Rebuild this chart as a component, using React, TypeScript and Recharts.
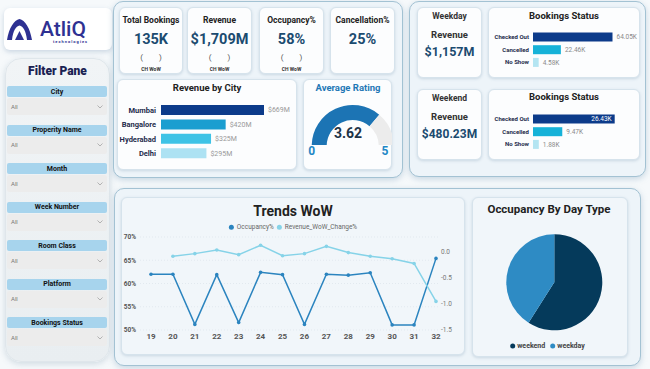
import React from 'react';
import {
  BarChart,
  Bar,
  XAxis,
  YAxis,
  Cell,
  LabelList,
  PieChart,
  Pie,
  LineChart,
  Line,
  CartesianGrid,
} from 'recharts';

// KPI cards
const kpiTitles = ['Total Bookings', 'Revenue', 'Occupancy%', 'Cancellation%'];
const kpiValues = ['135K', '$1,709M', '58%', '25%'];
const kpiHasWoW = [true, true, true, false];

// Revenue by city ($M)
const cities = ['Mumbai', 'Bangalore', 'Hyderabad', 'Delhi'];
const cityRevenue = [669, 420, 325, 295];
const cityColors = ['#0c3b8a', '#1a9ed0', '#3ec3e6', '#ade2f3'];

// Average rating gauge
const averageRating = 3.62;
const ratingMax = 5;

// Weekday / weekend
const dayRevenueLabels = ['Weekday', 'Weekend'];
const dayRevenueValues = ['$1,157M', '$480.23M'];
const bookingStatuses = ['Checked Out', 'Cancelled', 'No Show'];
const weekdayBookings = [64.05, 22.46, 4.58]; // K
const weekendBookings = [26.43, 9.47, 1.88]; // K
const statusColors = ['#0c3b8a', '#16b2d8', '#b4e5f2'];

// Trends WoW
const weeks = ['19', '20', '21', '22', '23', '24', '25', '26', '27', '28', '29', '30', '31', '32'];
const occupancyPct = [62.0, 62.0, 51.2, 61.9, 51.6, 62.4, 61.9, 51.2, 62.0, 61.8, 62.3, 51.1, 51.1, 65.4];
const revenueWoWChange = [null, -0.08, -0.03, 0.04, -0.05, 0.13, -0.07, -0.03, 0.11, -0.01, -0.08, -0.13, -0.22, -0.95];
const leftTicks = [50, 55, 60, 65, 70];
const rightTicks = [-1.5, -1.0, -0.5, 0.0];

// Occupancy by day type
const dayTypes = ['weekend', 'weekday'];
const dayTypeShare = [59, 41];
const dayTypeColors = ['#053a5b', '#2e8bc4'];

// Filter pane
const filterNames = ['City', 'Properity Name', 'Month', 'Week Number', 'Room Class', 'Platform', 'Bookings Status'];

const FONT = 'Roboto, "Open Sans", sans-serif';
const VALUE_COLOR = '#1b4b70';

function T({ x, y, size, color = '#222', weight = 700, children, anchor = 'center' }: any) {
  const tx = anchor === 'center' ? '-50%' : anchor === 'end' ? '-100%' : '0';
  return (
    <div
      style={{
        position: 'absolute',
        left: x,
        top: y,
        transform: `translate(${tx}, -50%)`,
        fontSize: size,
        fontWeight: weight,
        color,
        whiteSpace: 'pre',
        lineHeight: 1,
      }}
    >
      {children}
    </div>
  );
}

function Panel({ x, y, w, h }: any) {
  return (
    <div
      style={{
        position: 'absolute',
        left: x,
        top: y,
        width: w,
        height: h,
        boxSizing: 'border-box',
        border: '1px solid #a3c2d3',
        borderRadius: 10,
        background: '#edf4f9',
        boxShadow: '0 2px 6px rgba(110,150,180,0.35)',
      }}
    />
  );
}

function Card({ x, y, w, h, bg = '#fcfdfe' }: any) {
  return (
    <div
      style={{
        position: 'absolute',
        left: x,
        top: y,
        width: w,
        height: h,
        boxSizing: 'border-box',
        border: '1px solid #d6e3ec',
        borderRadius: 6,
        background: bg,
        boxShadow: '0 1px 3px rgba(120,150,175,0.3)',
      }}
    />
  );
}

function CategoryTick(size: number) {
  return (props: any) => (
    <text
      x={props.x}
      y={props.y}
      dy="0.35em"
      textAnchor="end"
      fontSize={size}
      fontWeight={700}
      fill="#1f2c4c"
    >
      {props.payload.value}
    </text>
  );
}

function statusLabel(insideFirst: boolean) {
  return (props: any) => {
    const x = Number(props.x);
    const y = Number(props.y);
    const width = Number(props.width);
    const height = Number(props.height);
    const inside = insideFirst && props.index === 0;
    return (
      <text
        x={inside ? x + width - 3 : x + width + 4}
        y={y + height / 2}
        dy="0.35em"
        textAnchor={inside ? 'end' : 'start'}
        fontSize={6.5}
        fill={inside ? '#ffffff' : '#8a8a8a'}
      >
        {`${Number(props.value).toFixed(2)}K`}
      </text>
    );
  };
}

function StatusChart({ top, values, right, insideFirst }: any) {
  const data = bookingStatuses.map((s, i) => ({ status: s, count: values[i] }));
  return (
    <div style={{ position: 'absolute', left: 490, top }}>
      <BarChart width={148} height={42} data={data} layout="vertical" margin={{ top: 2.5, right, bottom: 1.4, left: 0 }}>
        <XAxis type="number" hide domain={[0, Math.max(...values)]} />
        <YAxis
          type="category"
          dataKey="status"
          width={43}
          interval={0}
          axisLine={false}
          tickLine={false}
          tickSize={0}
          tickMargin={4}
          tick={CategoryTick(6)}
        />
        <Bar dataKey="count" barSize={9} isAnimationActive={false}>
          {data.map((d, i) => (
            <Cell key={d.status} fill={statusColors[i]} />
          ))}
          <LabelList dataKey="count" content={statusLabel(insideFirst)} />
        </Bar>
      </BarChart>
    </div>
  );
}

export default function App() {
  const cityData = cities.map((c, i) => ({ city: c, revenue: cityRevenue[i] }));
  const gaugeData = [
    { name: 'rating', value: averageRating },
    { name: 'rest', value: ratingMax - averageRating },
  ];
  const trendData = weeks.map((w, i) => ({ week: w, occupancy: occupancyPct[i], revWoW: revenueWoWChange[i] }));
  const pieData = dayTypes.map((d, i) => ({ name: d, value: dayTypeShare[i] }));
  const kpiX = [151, 219.5, 291.5, 362.5];
  const kpiBoxX = [119, 187, 259, 330];
  const kpiBoxW = [64, 65, 65, 65];

  return (
    <div
      style={{
        position: 'fixed',
        left: 0,
        top: 0,
        width: 650,
        height: 369,
        overflow: 'hidden',
        background: '#f6f9fb',
        fontFamily: FONT,
      }}
    >
      {/* logo */}
      <div
        style={{
          position: 'absolute',
          left: 4,
          top: 8,
          width: 108,
          height: 42,
          background: '#fff',
          borderRadius: 6,
          boxShadow: '0 2px 5px rgba(120,150,180,0.35)',
        }}
      />
      <svg style={{ position: 'absolute', left: 0, top: 0 }} width={40} height={50}>
        <path d="M7 40 C9 28 14 20 19.5 19 C25 20 30 28 32 40 L27 40 C26 31 23 26 19.5 25.5 C16 26 13 31 12 40 Z" fill="#2e3192" />
        <path d="M15 40 L19.5 31 L24 40 Z" fill="#2e3192" />
      </svg>
      <T x={40} y={29} size={21} weight={500} color="#2e3192" anchor="start">AtliQ</T>
      <T x={53} y={42} size={4} weight={700} color="#2e3192" anchor="start">t e c h n o l o g i e s</T>

      {/* filter pane */}
      <div
        style={{
          position: 'absolute',
          left: 5,
          top: 58,
          width: 105,
          height: 304,
          boxSizing: 'border-box',
          borderRadius: 16,
          background: 'linear-gradient(#f1f4f6, #e9eef1)',
          border: '1px solid #dfe6eb',
          boxShadow: '0 2px 6px rgba(120,150,170,0.3)',
        }}
      />
      <T x={57.5} y={70.5} size={12} weight={900} color="#1a2152">Filter Pane</T>
      {filterNames.map((f, i) => {
        const y = 86 + i * 38.5;
        return (
          <React.Fragment key={f}>
            <div style={{ position: 'absolute', left: 7, top: y, width: 100, height: 11, background: '#a7d4ed', borderRadius: 2 }} />
            <T x={57} y={y + 5.5} size={7} weight={700} color="#111">{f}</T>
            <div style={{ position: 'absolute', left: 7, top: y + 12, width: 100, height: 17, background: '#ececec', borderRadius: 2 }} />
            <T x={11} y={y + 20.5} size={6} weight={400} color="#777" anchor="start">All</T>
            <svg style={{ position: 'absolute', left: 97, top: y + 18.5 }} width={6} height={4}>
              <path d="M0.5 0.5 L3 3 L5.5 0.5" stroke="#999" strokeWidth={0.7} fill="none" />
            </svg>
          </React.Fragment>
        );
      })}

      {/* top-left panel */}
      <Panel x={113} y={1} w={290} h={177} />
      {kpiTitles.map((t, i) => (
        <React.Fragment key={t}>
          <Card x={kpiBoxX[i]} y={7} w={kpiBoxW[i]} h={67} />
          <T x={kpiX[i]} y={19.5} size={8.5} color="#222">{t}</T>
          <T x={kpiX[i]} y={40} size={14.5} color={VALUE_COLOR}>{kpiValues[i]}</T>
          {kpiHasWoW[i] && (
            <>
              <T x={kpiX[i]} y={57.5} size={8} weight={400} color="#555">{'(        )'}</T>
              <T x={kpiX[i]} y={68.5} size={5} color="#333">CH WoW</T>
            </>
          )}
        </React.Fragment>
      ))}

      {/* revenue by city */}
      <Card x={117} y={79} w={180} h={91} />
      <T x={207} y={88} size={9.5} color="#222">Revenue by City</T>
      <div style={{ position: 'absolute', left: 117, top: 100 }}>
        <BarChart width={180} height={63} data={cityData} layout="vertical" margin={{ top: 3, right: 33, bottom: 2.4, left: 0 }}>
          <XAxis type="number" hide domain={[0, 669]} />
          <YAxis
            type="category"
            dataKey="city"
            width={44}
            interval={0}
            axisLine={false}
            tickLine={false}
            tickSize={0}
            tickMargin={5}
            tick={CategoryTick(7.5)}
          />
          <Bar dataKey="revenue" barSize={10} isAnimationActive={false}>
            {cityData.map((d, i) => (
              <Cell key={d.city} fill={cityColors[i]} />
            ))}
            <LabelList dataKey="revenue" position="right" offset={4} fontSize={7} fill="#999" formatter={(v: any) => `$${v}M`} />
          </Bar>
        </BarChart>
      </div>

      {/* average rating gauge */}
      <Card x={303} y={79} w={89} h={91} />
      <T x={348} y={87.5} size={9.5} color="#1f78b6">Average Rating</T>
      <div style={{ position: 'absolute', left: 303, top: 95 }}>
        <PieChart width={89} height={50}>
          <Pie
            data={gaugeData}
            dataKey="value"
            cx={44.7}
            cy={46}
            startAngle={180}
            endAngle={0}
            innerRadius={26}
            outerRadius={41}
            stroke="none"
            isAnimationActive={false}
          >
            <Cell fill="#1c74b4" />
            <Cell fill="#ececec" />
          </Pie>
        </PieChart>
      </div>
      <T x={348} y={133} size={14} color="#1e3347">{averageRating.toFixed(2)}</T>
      <T x={311.7} y={150.5} size={12} color="#1f88c6">0</T>
      <T x={385} y={150.5} size={12} color="#1f88c6">{String(ratingMax)}</T>

      {/* top-right panel */}
      <Panel x={409} y={1} w={237} h={176} />
      {dayRevenueLabels.map((d, i) => {
        const oy = i * 81.5;
        return (
          <React.Fragment key={d}>
            <Card x={417} y={7 + oy} w={65} h={71} />
            <T x={449.5} y={16 + oy} size={8.5} color="#333">{d}</T>
            <T x={449.5} y={35 + oy} size={9.5} color="#333">Revenue</T>
            <T x={449.5} y={52 + oy} size={i === 0 ? 12.5 : 12} color={VALUE_COLOR}>{dayRevenueValues[i]}</T>
            <Card x={488} y={7 + oy} w={152} h={71} />
            <T x={564} y={15.8 + oy} size={9.5} color="#222">Bookings Status</T>
          </React.Fragment>
        );
      })}
      <StatusChart top={28} values={weekdayBookings} right={25.5} insideFirst={false} />
      <StatusChart top={109.5} values={weekendBookings} right={23.3} insideFirst={true} />

      {/* bottom panel */}
      <Panel x={114} y={188} w={527} h={178} />
      <Card x={121} y={197} w={344} h={158} bg="#f1f6fa" />
      <T x={293} y={210.5} size={14} color="#222">Trends WoW</T>
      <div
        style={{
          position: 'absolute',
          left: 293,
          top: 227,
          transform: 'translate(-50%, -50%)',
          fontSize: 6.5,
          color: '#666',
          whiteSpace: 'nowrap',
          display: 'flex',
          alignItems: 'center',
          gap: 3,
          lineHeight: 1,
        }}
      >
        <span style={{ width: 5, height: 5, borderRadius: 3, background: '#2b84bf', display: 'inline-block' }} />
        <span>Occupancy%</span>
        <span style={{ width: 5, height: 5, borderRadius: 3, background: '#86d3e8', display: 'inline-block' }} />
        <span>Revenue_WoW_Change%</span>
      </div>
      <div style={{ position: 'absolute', left: 121, top: 222 }}>
        <LineChart width={344} height={124} data={trendData} margin={{ top: 15, right: 0, bottom: 0, left: 0 }}>
          <CartesianGrid yAxisId="left" vertical={false} stroke="#e2e9ef" strokeDasharray="1 2" />
          <XAxis
            dataKey="week"
            height={16}
            interval={0}
            padding={{ left: 11, right: 2 }}
            axisLine={false}
            tickLine={false}
            tickSize={0}
            tickMargin={3}
            tick={{ fontSize: 8, fontWeight: 700, fill: '#555' }}
          />
          <YAxis
            yAxisId="left"
            domain={[50, 70]}
            ticks={leftTicks}
            width={19}
            axisLine={false}
            tickLine={false}
            tickSize={0}
            tickMargin={4}
            tick={{ fontSize: 6.5, fontWeight: 700, fill: '#555' }}
            tickFormatter={(v: number) => `${v}%`}
          />
          <YAxis
            yAxisId="right"
            orientation="right"
            domain={[-1.5, 0.29]}
            allowDataOverflow
            ticks={rightTicks}
            width={27}
            axisLine={false}
            tickLine={false}
            tickSize={0}
            tickMargin={3}
            tick={{ fontSize: 6.5, fill: '#777' }}
            tickFormatter={(v: number) => v.toFixed(1)}
          />
          <Line
            yAxisId="left"
            dataKey="occupancy"
            stroke="#2b84bf"
            strokeWidth={1.5}
            dot={{ r: 1.8, fill: '#2b84bf', stroke: '#2b84bf', strokeWidth: 0 }}
            isAnimationActive={false}
          />
          <Line
            yAxisId="right"
            dataKey="revWoW"
            stroke="#86d3e8"
            strokeWidth={1.5}
            dot={{ r: 1.8, fill: '#86d3e8', stroke: '#86d3e8', strokeWidth: 0 }}
            isAnimationActive={false}
          />
        </LineChart>
      </div>

      {/* occupancy by day type */}
      <Card x={472} y={197} w={156} h={160} bg="#f1f6fa" />
      <T x={549} y={209.5} size={11.5} color="#222">Occupancy By Day Type</T>
      <div style={{ position: 'absolute', left: 472, top: 220 }}>
        <PieChart width={156} height={115}>
          <Pie
            data={pieData}
            dataKey="value"
            cx={77.3}
            cy={57.3}
            startAngle={90}
            endAngle={-270}
            outerRadius={48}
            stroke="none"
            isAnimationActive={false}
          >
            {pieData.map((d, i) => (
              <Cell key={d.name} fill={dayTypeColors[i]} />
            ))}
          </Pie>
        </PieChart>
      </div>
      <div
        style={{
          position: 'absolute',
          left: 549,
          top: 346,
          transform: 'translate(-50%, -50%)',
          fontSize: 7,
          fontWeight: 700,
          color: '#444',
          whiteSpace: 'nowrap',
          display: 'flex',
          alignItems: 'center',
          gap: 2,
          lineHeight: 1,
        }}
      >
        {dayTypes.map((d, i) => (
          <React.Fragment key={d}>
            <span style={{ width: 5, height: 5, borderRadius: 3, background: dayTypeColors[i], display: 'inline-block' }} />
            <span style={{ marginRight: 3 }}>{d}</span>
          </React.Fragment>
        ))}
      </div>
    </div>
  );
}
